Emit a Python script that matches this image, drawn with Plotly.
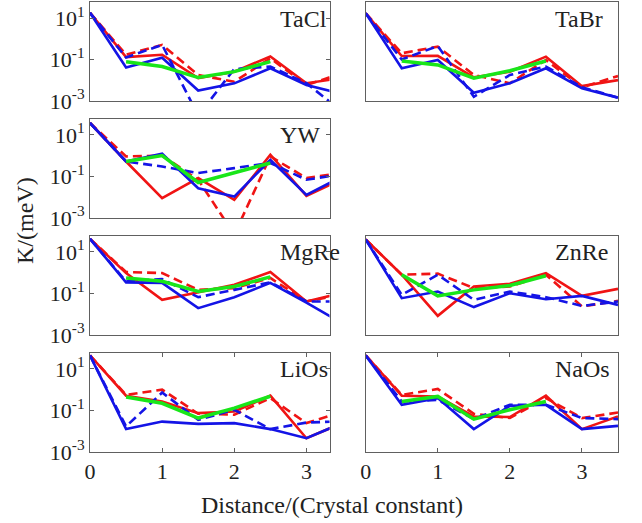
import plotly.graph_objects as go

W, H = 642, 523
X = [0, 0.5, 1, 1.5, 2, 2.5, 3, 3.5]
XG = [0.5, 1, 1.5, 2, 2.5]
TICKS_X = [0, 1, 2, 3]
TICKS_Y = [1e-3, 1e-1, 1e1]
TICKTEXT_Y = ["10<sup>-3</sup>", "10<sup>-1</sup>", "10<sup>1</sup>"]
PANEL_NAMES = ["TaCl", "TaBr", "YW", "MgRe", "ZnRe", "LiOs", "NaOs"]

# ---- data (K in meV) ----
tacl_red_solid = [18, 0.13, 0.17, 0.0126, 0.026, 0.14, 0.0072, 0.013]
tacl_red_dash = [18, 0.17, 0.51, 0.018, 0.0085, 0.115, 0.0059, 0.022]
tacl_blue_solid = [18, 0.041, 0.123, 0.0032, 0.0071, 0.038, 0.0059, 0.0022]
tacl_blue_dash = [18, 0.126, 0.51, 0.0002, 0.035, 0.046, 0.0072, 0.0003]
tacl_green = [0.079, 0.046, 0.0135, 0.026, 0.079]

tabr_red_solid = [17, 0.148, 0.151, 0.0138, 0.026, 0.138, 0.0052, 0.0102]
tabr_red_dash = [17, 0.2, 0.42, 0.018, 0.0072, 0.095, 0.0046, 0.016]
tabr_blue_solid = [17, 0.038, 0.095, 0.0025, 0.0072, 0.038, 0.0041, 0.00145]
tabr_blue_dash = [17, 0.1, 0.45, 0.0016, 0.018, 0.046, 0.0046, 0.00145]
tabr_green = [0.085, 0.055, 0.0126, 0.029, 0.085]

yw_red_solid = [37, 0.52, 0.0089, 0.083, 0.0074, 1.1, 0.0115, 0.075]
yw_red_dash = [37, 0.91, 1.0, 0.069, 0.00016, 0.91, 0.083, 0.15]
yw_blue_solid = [37, 0.52, 1.23, 0.027, 0.0107, 0.63, 0.0129, 0.1]
yw_blue_dash = [37, 0.52, 0.3, 0.145, 0.25, 0.44, 0.069, 0.13]
yw_green = [0.52, 1.0, 0.051, 0.145, 0.44]

mgre_red_solid = [42, 0.95, 0.049, 0.11, 0.26, 1.07, 0.041, 0.107]
mgre_red_dash = [42, 1.07, 0.95, 0.148, 0.178, 0.55, 0.041, 0.09]
mgre_blue_solid = [42, 0.34, 0.32, 0.0195, 0.066, 0.32, 0.036, 0.0036]
mgre_blue_dash = [42, 0.38, 0.49, 0.066, 0.148, 0.34, 0.041, 0.041]
mgre_green = [0.55, 0.38, 0.123, 0.214, 0.62]

znre_red_solid = [39, 0.79, 0.0083, 0.214, 0.29, 0.95, 0.076, 0.166]
znre_red_dash = [39, 0.79, 0.89, 0.18, 0.214, 0.79, 0.0234, 0.044]
znre_blue_solid = [39, 0.059, 0.123, 0.022, 0.102, 0.052, 0.076, 0.028]
znre_blue_dash = [39, 0.085, 0.79, 0.049, 0.123, 0.066, 0.025, 0.041]
znre_green = [0.79, 0.076, 0.148, 0.24, 0.71]

lios_red_solid = [44, 0.51, 0.27, 0.074, 0.089, 0.51, 0.0046, 0.025]
lios_red_dash = [44, 0.56, 1.0, 0.069, 0.062, 0.39, 0.0245, 0.087]
lios_blue_solid = [44, 0.0126, 0.029, 0.0224, 0.0245, 0.0126, 0.0046, 0.025]
lios_blue_dash = [44, 0.017, 0.72, 0.035, 0.107, 0.0126, 0.026, 0.03]
lios_green = [0.44, 0.22, 0.043, 0.129, 0.48]

naos_red_solid = [44, 0.51, 0.47, 0.051, 0.048, 0.51, 0.0126, 0.051]
naos_red_dash = [44, 0.56, 1.07, 0.069, 0.043, 0.39, 0.043, 0.079]
naos_blue_solid = [44, 0.186, 0.39, 0.0126, 0.166, 0.186, 0.0126, 0.018]
naos_blue_dash = [44, 0.27, 0.32, 0.038, 0.186, 0.186, 0.043, 0.038]
naos_green = [0.27, 0.47, 0.038, 0.107, 0.27]

panel_data = [
    (tacl_red_solid, tacl_red_dash, tacl_blue_solid, tacl_blue_dash, tacl_green),
    (tabr_red_solid, tabr_red_dash, tabr_blue_solid, tabr_blue_dash, tabr_green),
    (yw_red_solid, yw_red_dash, yw_blue_solid, yw_blue_dash, yw_green),
    (mgre_red_solid, mgre_red_dash, mgre_blue_solid, mgre_blue_dash, mgre_green),
    (znre_red_solid, znre_red_dash, znre_blue_solid, znre_blue_dash, znre_green),
    (lios_red_solid, lios_red_dash, lios_blue_solid, lios_blue_dash, lios_green),
    (naos_red_solid, naos_red_dash, naos_blue_solid, naos_blue_dash, naos_green),
]

# ---- layout geometry (pixels) ----
ROWS = [(2.3, 101), (119, 218), (236, 335), (353, 452)]
COLS = [(90, 329.5, 3.32), (365.7, 618, 3.5)]
placement = [(0, 0), (0, 1), (1, 0), (2, 0), (2, 1), (3, 0), (3, 1)]

RED = "#f01414"
BLUE = "#1414e6"
GREEN = "#19e619"
DASH = "9px,5px"
FONT = "Liberation Serif"
AXC = "#606060"

fig = go.Figure()
layout = dict(
    width=W, height=H, margin=dict(l=0, r=0, t=0, b=0),
    paper_bgcolor="white", plot_bgcolor="white", showlegend=False,
    font=dict(family=FONT, size=22, color="#222"),
    annotations=[],
)

for i, (name, (r, c), data) in enumerate(zip(PANEL_NAMES, placement, panel_data), start=1):
    xa = "x" if i == 1 else f"x{i}"
    ya = "y" if i == 1 else f"y{i}"
    rs, rd, bs, bd, g = data
    styles = [
        (X, rs, RED, "solid", 2.6),
        (X, rd, RED, DASH, 2.6),
        (X, bs, BLUE, "solid", 2.6),
        (X, bd, BLUE, DASH, 2.6),
        (XG, g, GREEN, "solid", 3.5),
    ]
    for xs, ys, col, dash, w in styles:
        fig.add_trace(go.Scatter(x=xs, y=ys, mode="lines", xaxis=xa, yaxis=ya,
                                 line=dict(color=col, dash=dash, width=w),
                                 hoverinfo="skip"))
    top, bot = ROWS[r]
    x0, x1, xmax = COLS[c]
    bottom_row = (r == 3)
    left_col = (c == 0)
    layout["xaxis" if i == 1 else f"xaxis{i}"] = dict(
        domain=[x0 / W, x1 / W], anchor=ya, range=[0, xmax],
        showgrid=False, zeroline=False, showline=True, linecolor=AXC, linewidth=1,
        mirror="ticks" if bottom_row else True,
        ticks="inside" if bottom_row else "", ticklen=4, tickcolor=AXC,
        tickvals=TICKS_X, showticklabels=bottom_row,
        tickfont=dict(family=FONT, size=22, color="#222"),
        automargin=False, fixedrange=True,
    )
    layout["yaxis" if i == 1 else f"yaxis{i}"] = dict(
        domain=[(H - bot) / H, (H - top) / H], anchor=xa, type="log",
        range=[-3, 1.76],
        showgrid=False, zeroline=False, showline=True, linecolor=AXC, linewidth=1,
        mirror="ticks" if left_col else True,
        ticks="inside" if left_col else "", ticklen=4, tickcolor=AXC,
        tickvals=TICKS_Y, ticktext=TICKTEXT_Y, showticklabels=left_col,
        tickfont=dict(family=FONT, size=22, color="#222"),
        automargin=False, fixedrange=True,
    )
    layout["annotations"].append(dict(
        text=name, x=2.6, y=0.97, xref=xa, yref=ya, xanchor="left", yanchor="middle",
        showarrow=False, font=dict(family=FONT, size=24, color="#222"),
    ))

layout["annotations"].append(dict(
    text="K/(meV)", x=25 / W, y=(H - 221) / H, xref="paper", yref="paper",
    textangle=-90, showarrow=False, xanchor="center", yanchor="middle",
    font=dict(family=FONT, size=24, color="#222"),
))
layout["annotations"].append(dict(
    text="Distance/(Crystal constant)", x=332 / W, y=(H - 505) / H, xref="paper", yref="paper",
    showarrow=False, xanchor="center", yanchor="middle",
    font=dict(family=FONT, size=24, color="#222"),
))

fig.update_layout(**layout)
fig.write_html("out.html", config={"displayModeBar": False},
               post_script="document.body.style.margin='0';document.body.style.overflow='hidden';")
